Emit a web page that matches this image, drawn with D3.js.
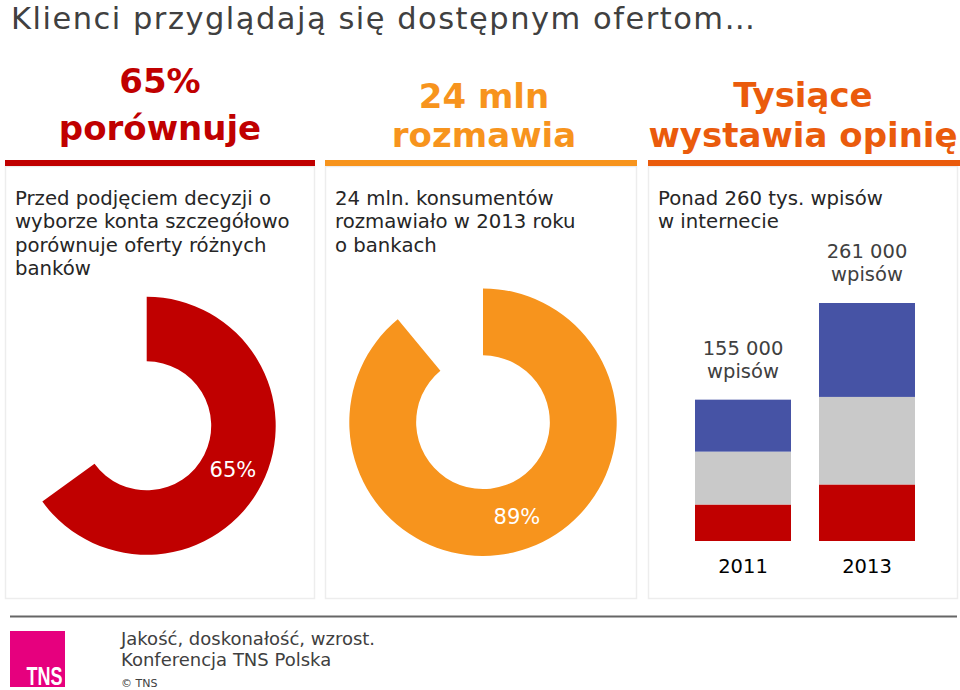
<!DOCTYPE html>
<html>
<head>
<meta charset="utf-8">
<script src="https://cdn.jsdelivr.net/npm/d3@7"></script>
<style>
  html, body { margin: 0; padding: 0; background: #fff; }
  svg { display: block; font-family: "DejaVu Sans", Verdana, sans-serif; }
</style>
</head>
<body>
<svg id="chart" width="960" height="690"></svg>
<script>
// ---- data ----
const title = "Klienci przyglądają się dostępnym ofertom…";
const headers = [["65%", "porównuje"], ["24 mln", "rozmawia"], ["Tysiące", "wystawia opinię"]];
const bodyTexts = [
  ["Przed podjęciem decyzji o", "wyborze konta szczegółowo", "porównuje oferty różnych", "banków"],
  ["24 mln. konsumentów", "rozmawiało w 2013 roku", "o bankach"],
  ["Ponad 260 tys. wpisów", "w internecie"]
];
const donutValues = [65, 89];           // percent
const donutLabels = ["65%", "89%"];
const years = ["2011", "2013"];
const segRed = [40, 62];                // thousands of entries
const segGray = [58, 96];
const segBlue = [57, 103];
const totalLabels = ["155 000", "261 000"];
const totalUnit = "wpisów";
const footerLines = ["Jakość, doskonałość, wzrost.", "Konferencja TNS Polska"];
const copyright = "© TNS";

// ---- styles ----
const panelColors = ["#C00000", "#F7941D", "#EA5B0C"];
const barColors = { red: "#C00000", gray: "#C9C9C9", blue: "#4653A5" };
const textDark = "#262626";
const textGray = "#404040";

const svg = d3.select("#chart");

// Title
svg.append("text").attr("x", 11).attr("y", 28.5)
  .attr("font-size", 30.5).attr("letter-spacing", 1.5).attr("fill", textGray).text(title);

// Panels
const panels = [
  { x0: 5, x1: 315, hx: 160, hy: [93, 140] },
  { x0: 325, x1: 637, hx: 484, hy: [108, 147] },
  { x0: 648, x1: 958, hx: 803, hy: [107, 147] }
];
panels.forEach((p, i) => {
  // box
  svg.append("rect").attr("x", p.x0 + 0.5).attr("y", 166.5)
    .attr("width", p.x1 - p.x0 - 1).attr("height", 432)
    .attr("fill", "none").attr("stroke", "#EDEDED").attr("stroke-width", 1.5);
  // header bar
  svg.append("rect").attr("x", p.x0).attr("y", 160)
    .attr("width", (i === 2 ? 960 : p.x1) - p.x0).attr("height", 6)
    .attr("fill", panelColors[i]);
  // header text
  headers[i].forEach((t, j) => {
    svg.append("text").attr("x", p.hx).attr("y", p.hy[j])
      .attr("text-anchor", "middle").attr("font-size", 34).attr("font-weight", "bold")
      .attr("fill", panelColors[i]).text(t);
  });
  // body text
  bodyTexts[i].forEach((t, j) => {
    svg.append("text").attr("x", p.x0 + 10).attr("y", 205 + j * 23.3)
      .attr("font-size", 19.7).attr("fill", textDark).text(t);
  });
});

// Donuts
const donutGeom = [
  { cx: 146.7, cy: 425.8, r: 129 },
  { cx: 483, cy: 422.2, r: 133.7 }
];
const pie = d3.pie().sort(null).value(d => d);
donutValues.forEach((v, i) => {
  const g = donutGeom[i];
  const arcs = pie([v, 100 - v]);
  const arc = d3.arc().innerRadius(g.r * 0.5).outerRadius(g.r);
  const grp = svg.append("g").attr("transform", `translate(${g.cx},${g.cy})`);
  grp.append("path").attr("d", arc(arcs[0])).attr("fill", panelColors[i]);
  const c = arc.centroid(arcs[0]);
  grp.append("text").attr("x", c[0]).attr("y", c[1])
    .attr("text-anchor", "middle").attr("dominant-baseline", "central")
    .attr("font-size", 21).attr("fill", "#fff").text(donutLabels[i]);
});

// Stacked bars
const barData = years.map((y, i) => ({ year: y, red: segRed[i], gray: segGray[i], blue: segBlue[i] }));
const keys = ["red", "gray", "blue"];
const stack = d3.stack().keys(keys)(barData);
const x = d3.scaleBand().domain(years).range([681, 929])
  .paddingInner(28 / 124).paddingOuter(14 / 124);
const yMax = d3.max(barData, d => d.red + d.gray + d.blue);
const y = d3.scaleLinear().domain([0, yMax]).range([541, 303]);

svg.append("g").selectAll("g").data(stack).join("g")
  .attr("fill", d => barColors[d.key])
  .selectAll("rect").data(d => d).join("rect")
  .attr("x", d => x(d.data.year))
  .attr("y", d => y(d[1]))
  .attr("width", x.bandwidth())
  .attr("height", d => y(d[0]) - y(d[1]));

barData.forEach((d, i) => {
  const cx = x(d.year) + x.bandwidth() / 2;
  const top = y(d.red + d.gray + d.blue);
  svg.append("text").attr("x", cx).attr("y", top - 45)
    .attr("text-anchor", "middle").attr("font-size", 19.5).attr("fill", textGray).text(totalLabels[i]);
  svg.append("text").attr("x", cx).attr("y", top - 22)
    .attr("text-anchor", "middle").attr("font-size", 19.5).attr("fill", textGray).text(totalUnit);
});

// x axis (labels only)
const xAxis = d3.axisBottom(x).tickSize(0).tickPadding(0);
const ax = svg.append("g").attr("transform", "translate(0,541)").call(xAxis);
ax.select(".domain").remove();
ax.selectAll("text").attr("font-size", 19.5).attr("fill", "#000")
  .attr("font-family", "DejaVu Sans, Verdana, sans-serif")
  .attr("dy", null).attr("y", 32);

// Footer
svg.append("line").attr("x1", 10).attr("x2", 957).attr("y1", 616.5).attr("y2", 616.5)
  .attr("stroke", "#666").attr("stroke-width", 2);
svg.append("rect").attr("x", 10).attr("y", 631).attr("width", 55).attr("height", 56).attr("fill", "#E6007E");
svg.append("text").attr("transform", "translate(26.5,685) scale(0.72,1)")
  .attr("font-size", 25).attr("font-weight", "bold")
  .attr("fill", "#fff").attr("font-family", "Liberation Sans, Arial, sans-serif").text("TNS");
footerLines.forEach((t, j) => {
  svg.append("text").attr("x", 121).attr("y", 645 + j * 20.5).attr("font-size", 18)
    .attr("fill", textGray).text(t);
});
svg.append("text").attr("x", 121).attr("y", 687).attr("font-size", 11)
  .attr("fill", textGray).text(copyright);
</script>
</body>
</html>
